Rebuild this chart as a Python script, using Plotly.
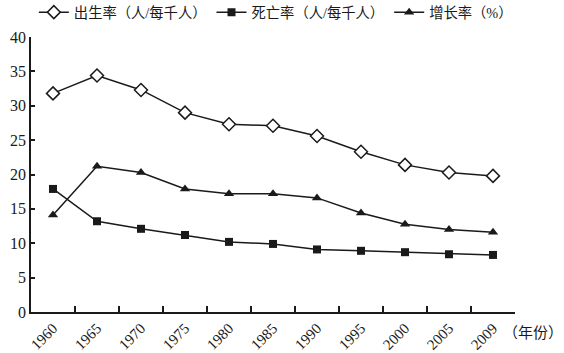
import plotly.graph_objects as go

years = ["1960", "1965", "1970", "1975", "1980", "1985", "1990", "1995", "2000", "2005", "2009"]
birth_rate = [31.8, 34.4, 32.3, 29.0, 27.3, 27.1, 25.6, 23.3, 21.4, 20.3, 19.8]
death_rate = [17.9, 13.2, 12.1, 11.2, 10.2, 9.9, 9.1, 8.9, 8.7, 8.4, 8.3]
growth_rate = [14.1, 21.2, 20.3, 17.9, 17.2, 17.2, 16.6, 14.4, 12.75, 12.0, 11.6]

FONT = "Liberation Serif, Noto Sans CJK SC, serif"

fig = go.Figure()
fig.add_trace(go.Scatter(
    x=years, y=birth_rate, name="出生率（人/每千人）", mode="lines+markers",
    line=dict(color="#1a1a1a", width=1.5),
    marker=dict(symbol="diamond", size=10, color="white", line=dict(color="#1a1a1a", width=1.5)),
))
fig.add_trace(go.Scatter(
    x=years, y=death_rate, name="死亡率（人/每千人）", mode="lines+markers",
    line=dict(color="#1a1a1a", width=1.5),
    marker=dict(symbol="square", size=8, color="#1a1a1a"),
))
fig.add_trace(go.Scatter(
    x=years, y=growth_rate, name="增长率（%）", mode="lines+markers",
    line=dict(color="#1a1a1a", width=1.5),
    marker=dict(symbol="triangle-up", size=9, color="#1a1a1a"),
))

fig.update_layout(
    width=564, height=353,
    margin=dict(l=31, r=49, t=37, b=41),
    paper_bgcolor="white", plot_bgcolor="white",
    font=dict(family=FONT, size=15, color="#1a1a1a"),
    showlegend=True,
    legend=dict(orientation="h", x=0.06, xanchor="left", y=0.965, yanchor="middle",
                yref="container", xref="container", font=dict(size=14.3, family=FONT),
                itemwidth=30, tracegroupgap=0, bgcolor="rgba(0,0,0,0)"),
    xaxis=dict(
        type="category", showline=True, linecolor="#1a1a1a", linewidth=1.5,
        ticks="inside", ticklen=6, tickcolor="#1a1a1a", tickwidth=1.5, tickson="boundaries",
        tickangle=-45, showgrid=False, zeroline=False, range=[-0.5, 10.5],
        tickfont=dict(size=15, family=FONT), automargin=False,
    ),
    yaxis=dict(
        range=[0, 40], dtick=5, showline=True, linecolor="#1a1a1a", linewidth=1.5,
        ticks="inside", ticklen=4, tickcolor="#1a1a1a", tickwidth=1.5, showgrid=False, zeroline=False,
        tickfont=dict(size=16, family=FONT), automargin=False,
    ),
)

fig.add_annotation(text="（年份）", xref="paper", yref="paper", x=1.0, y=0, xanchor="left",
                   yanchor="top", yshift=-11, xshift=-14, showarrow=False,
                   font=dict(size=15, family=FONT))

fig.write_html("out.html")
